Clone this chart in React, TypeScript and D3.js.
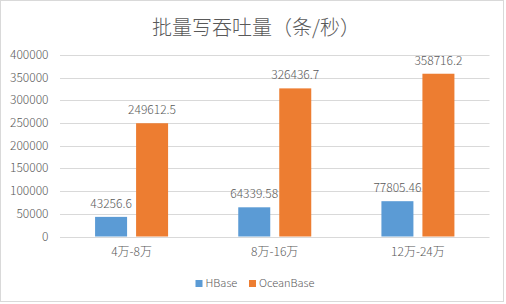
import React from "react";
import * as d3 from "d3";

const categories = ["4万-8万", "8万-16万", "12万-24万"];
const seriesNames = ["HBase", "OceanBase"];
const hbase = [43256.6, 64339.58, 77805.46];
const oceanbase = [249612.5, 326436.7, 358716.2];
const yTicks = [0, 50000, 100000, 150000, 200000, 250000, 300000, 350000, 400000];
const colors = ["#5B9BD5", "#ED7D31"];
const title = "批量写吞吐量（条/秒）";

const W = 506;
const H = 304;
const FONT = "'Noto Sans CJK SC', 'Microsoft YaHei', sans-serif";
const TEXT = "#595959";
const GRID = "#d9d9d9";

export default function App() {
  const series = [hbase, oceanbase];
  const y = d3.scaleLinear().domain([0, 400000]).range([236.5, 55]);
  const x0 = d3.scaleBand<string>().domain(categories).range([60, 489.5]).paddingInner(0).paddingOuter(0);
  const groupW = 73;
  const x1 = d3
    .scaleBand<string>()
    .domain(seriesNames)
    .range([0, groupW])
    .paddingInner(2 - groupW / 41)
    .paddingOuter(0);
  const gx = (c: string) => (x0(c) as number) + x0.bandwidth() / 2 - groupW / 2;

  return (
    <svg
      width={W}
      height={H}
      style={{ position: "absolute", left: 0, top: 0, background: "#fff" }}
      fontFamily={FONT}
      fontWeight={300}
    >
      <rect x={0.5} y={0.5} width={503} height={301} fill="#fff" stroke={GRID} />
      <text x={256} y={35} textAnchor="middle" fontSize={20} fill={TEXT}>
        {title}
      </text>
      {yTicks.map((t) => (
        <g key={t}>
          <line x1={60} x2={489.5} y1={Math.round(y(t)) + 0.5} y2={Math.round(y(t)) + 0.5} stroke={GRID} />
          <text x={48.5} y={y(t) + 4} textAnchor="end" fontSize={12} fill={TEXT}>
            {t}
          </text>
        </g>
      ))}
      {series.map((vals, si) => (
        <g key={si}>
          {categories.map((c, ci) => {
            const bx = gx(c) + (x1(seriesNames[si]) as number);
            const by = y(vals[ci]);
            return (
              <g key={c}>
                <rect x={bx} y={by} width={x1.bandwidth()} height={y(0) - by} fill={colors[si]} />
                <text
                  x={bx + x1.bandwidth() / 2}
                  y={by - 9}
                  textAnchor="middle"
                  fontSize={12}
                  fill={TEXT}
                >
                  {String(vals[ci])}
                </text>
              </g>
            );
          })}
        </g>
      ))}
      {categories.map((c) => (
        <text
          key={c}
          x={(x0(c) as number) + x0.bandwidth() / 2}
          y={256}
          textAnchor="middle"
          fontSize={12}
          fill={TEXT}
        >
          {c}
        </text>
      ))}
      {seriesNames.map((s, i) => {
        const lx = [195.5, 249][i];
        return (
          <g key={s}>
            <rect x={lx} y={280} width={7} height={7} fill={colors[i]} />
            <text x={lx + 10} y={287} fontSize={11} fill={TEXT}>
              {s}
            </text>
          </g>
        );
      })}
    </svg>
  );
}
